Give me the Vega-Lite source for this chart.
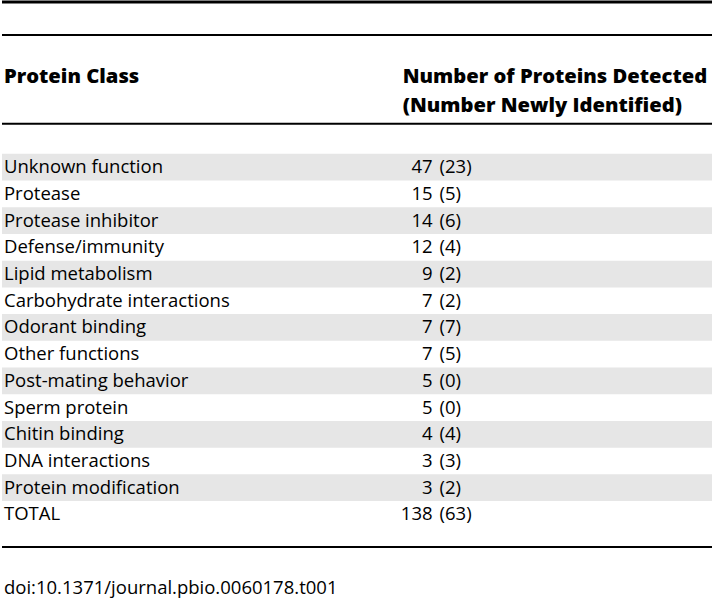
{
  "$schema": "https://vega.github.io/schema/vega-lite/v6.json",
  "width": 714,
  "height": 600,
  "autosize": {"type": "fit", "contains": "padding"},
  "padding": 0,
  "background": "white",
  "config": {"view": {"stroke": null}, "text": {"font": "Open Sans", "fontSize": 18.5, "color": "black"}},
  "datasets": {
    "rows": [
      {"r": 1, "cls": "Unknown function", "n": 47, "k": 23},
      {"r": 2, "cls": "Protease", "n": 15, "k": 5},
      {"r": 3, "cls": "Protease inhibitor", "n": 14, "k": 6},
      {"r": 4, "cls": "Defense/immunity", "n": 12, "k": 4},
      {"r": 5, "cls": "Lipid metabolism", "n": 9, "k": 2},
      {"r": 6, "cls": "Carbohydrate interactions", "n": 7, "k": 2},
      {"r": 7, "cls": "Odorant binding", "n": 7, "k": 7},
      {"r": 8, "cls": "Other functions", "n": 7, "k": 5},
      {"r": 9, "cls": "Post-mating behavior", "n": 5, "k": 0},
      {"r": 10, "cls": "Sperm protein", "n": 5, "k": 0},
      {"r": 11, "cls": "Chitin binding", "n": 4, "k": 4},
      {"r": 12, "cls": "DNA interactions", "n": 3, "k": 3},
      {"r": 13, "cls": "Protein modification", "n": 3, "k": 2},
      {"r": 14, "cls": "TOTAL", "n": 138, "k": 63}
    ]
  },
  "layer": [
    {
      "data": {"name": "rows"},
      "transform": [
        {"filter": "datum.r % 2 == 1 && datum.r < 14"},
        {"calculate": "datum.r - 0.5", "as": "r0"},
        {"calculate": "datum.r + 0.5", "as": "r1"}
      ],
      "mark": {"type": "rect", "color": "#e6e6e6"},
      "encoding": {
        "x": {"datum": 0, "type": "quantitative", "scale": {"domain": [0, 714], "nice": false, "zero": false}, "axis": null},
        "x2": {"datum": 714},
        "y": {"field": "r0", "type": "quantitative", "scale": {"domain": [-5.2243, 17.2056], "reverse": true, "nice": false, "zero": false}, "axis": null},
        "y2": {"field": "r1"}
      }
    },
    {
      "data": {"name": "rows"},
      "mark": {"type": "text", "align": "left", "baseline": "middle"},
      "encoding": {
        "x": {"datum": 2, "type": "quantitative", "scale": {"domain": [0, 714], "nice": false, "zero": false}, "axis": null},
        "y": {"field": "r", "type": "quantitative", "scale": {"domain": [-5.2243, 17.2056], "reverse": true, "nice": false, "zero": false}, "axis": null},
        "text": {"field": "cls"}
      }
    },
    {
      "data": {"name": "rows"},
      "mark": {"type": "text", "align": "right", "baseline": "middle"},
      "encoding": {
        "x": {"datum": 433, "type": "quantitative", "scale": {"domain": [0, 714], "nice": false, "zero": false}, "axis": null},
        "y": {"field": "r", "type": "quantitative", "scale": {"domain": [-5.2243, 17.2056], "reverse": true, "nice": false, "zero": false}, "axis": null},
        "text": {"field": "n"}
      }
    },
    {
      "data": {"name": "rows"},
      "transform": [{"calculate": "'(' + datum.k + ')'", "as": "kl"}],
      "mark": {"type": "text", "align": "left", "baseline": "middle"},
      "encoding": {
        "x": {"datum": 440, "type": "quantitative", "scale": {"domain": [0, 714], "nice": false, "zero": false}, "axis": null},
        "y": {"field": "r", "type": "quantitative", "scale": {"domain": [-5.2243, 17.2056], "reverse": true, "nice": false, "zero": false}, "axis": null},
        "text": {"field": "kl"}
      }
    },
    {
      "data": {"values": [{"t": "Protein Class", "r": -2.383}]},
      "mark": {"type": "text", "align": "left", "baseline": "middle", "fontWeight": 800, "fontSize": 20.2},
      "encoding": {
        "x": {"datum": 2, "type": "quantitative", "scale": {"domain": [0, 714], "nice": false, "zero": false}, "axis": null},
        "y": {"field": "r", "type": "quantitative", "scale": {"domain": [-5.2243, 17.2056], "reverse": true, "nice": false, "zero": false}, "axis": null},
        "text": {"field": "t"}
      }
    },
    {
      "data": {"values": [{"t": "Number of Proteins Detected", "r": -2.383}, {"t": "(Number Newly Identified)", "r": -1.299}]},
      "mark": {"type": "text", "align": "left", "baseline": "middle", "fontWeight": 800, "fontSize": 20.2},
      "encoding": {
        "x": {"datum": 403, "type": "quantitative", "scale": {"domain": [0, 714], "nice": false, "zero": false}, "axis": null},
        "y": {"field": "r", "type": "quantitative", "scale": {"domain": [-5.2243, 17.2056], "reverse": true, "nice": false, "zero": false}, "axis": null},
        "text": {"field": "t"}
      }
    },
    {
      "data": {"values": [{"t": "doi:10.1371/journal.pbio.0060178.t001", "r": 16.757}]},
      "mark": {"type": "text", "align": "left", "baseline": "middle"},
      "encoding": {
        "x": {"datum": 2, "type": "quantitative", "scale": {"domain": [0, 714], "nice": false, "zero": false}, "axis": null},
        "y": {"field": "r", "type": "quantitative", "scale": {"domain": [-5.2243, 17.2056], "reverse": true, "nice": false, "zero": false}, "axis": null},
        "text": {"field": "t"}
      }
    },
    {
      "data": {"values": [{"r": -5.187}]},
      "mark": {"type": "rule", "color": "black", "strokeWidth": 3},
      "encoding": {
        "x": {"datum": 0, "type": "quantitative", "scale": {"domain": [0, 714], "nice": false, "zero": false}, "axis": null},
        "x2": {"datum": 714},
        "y": {"field": "r", "type": "quantitative", "scale": {"domain": [-5.2243, 17.2056], "reverse": true, "nice": false, "zero": false}, "axis": null}
      }
    },
    {
      "data": {"values": [{"r": -3.953}, {"r": -0.626}, {"r": 15.224}]},
      "mark": {"type": "rule", "color": "black", "strokeWidth": 2},
      "encoding": {
        "x": {"datum": 0, "type": "quantitative", "scale": {"domain": [0, 714], "nice": false, "zero": false}, "axis": null},
        "x2": {"datum": 714},
        "y": {"field": "r", "type": "quantitative", "scale": {"domain": [-5.2243, 17.2056], "reverse": true, "nice": false, "zero": false}, "axis": null}
      }
    }
  ]
}
